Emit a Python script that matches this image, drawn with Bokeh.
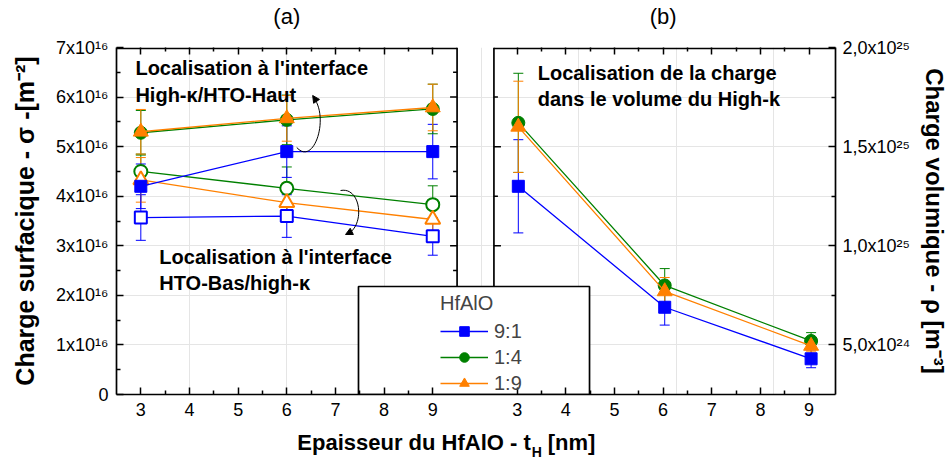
import math
from bokeh.plotting import figure
from bokeh.layouts import column
from bokeh.models import (Range1d, LinearAxis, FixedTicker, CustomJSTickFormatter, Whisker, TeeHead,
                          ColumnDataSource, Legend, LegendItem, Label, Arrow, NormalHead)
from bokeh.embed import file_html
from bokeh.resources import INLINE

# ---------------- data ----------------
thickness_nm = [3, 6, 9]
ratios = ["9:1", "1:4", "1:9"]
colors = ["#0000FF", "#008000", "#FF8000"]
markers = ["square", "circle", "triangle"]

# (a) surface charge, units of 1e16 m^-2
# filled symbols: interface High-k/HTO-Haut
sigma_haut_91 = [4.20, 4.90, 4.90]
sigma_haut_14 = [5.28, 5.54, 5.76]
sigma_haut_19 = [5.30, 5.57, 5.79]
sigma_haut_err_91 = [0.45, 0.52, 0.55]
sigma_haut_err_14 = [0.45, 0.50, 0.50]
sigma_haut_err_19 = [0.45, 0.46, 0.47]
# open symbols: interface HTO-Bas/high-k
sigma_bas_91 = [3.57, 3.60, 3.19]
sigma_bas_14 = [4.50, 4.16, 3.83]
sigma_bas_19 = [4.33, 3.87, 3.53]
sigma_bas_err_91 = [0.46, 0.43, 0.38]
sigma_bas_err_14 = [0.35, 0.43, 0.38]
sigma_bas_err_19 = [0.45, 0.40, 0.40]

# (b) volume charge, units of 1e24 m^-3
rho_91 = [13.0, 6.9, 4.3]
rho_14 = [16.2, 8.0, 5.2]
rho_19 = [16.0, 7.7, 4.95]
rho_err_91 = [2.35, 0.90, 0.45]
rho_err_14 = [2.50, 0.85, 0.42]
rho_err_19 = [2.30, 0.70, 0.30]

x_ticks = [3, 4, 5, 6, 7, 8, 9]
x_minor_ticks = [3.5, 4.5, 5.5, 6.5, 7.5, 8.5]
panel_titles = ["(a)", "(b)"]
sigma_ticks = [0, 1, 2, 3, 4, 5, 6, 7]
sigma_minor_ticks = [0.5, 1.5, 2.5, 3.5, 4.5, 5.5, 6.5]
sigma_tick_labels = ["0", "1x10¹⁶", "2x10¹⁶", "3x10¹⁶", "4x10¹⁶", "5x10¹⁶", "6x10¹⁶", "7x10¹⁶"]
rho_ticks = [5, 10, 15, 20]
rho_minor_ticks = [7.5, 12.5, 17.5]
rho_tick_labels = ["5,0x10²⁴", "1,0x10²⁵", "1,5x10²⁵", "2,0x10²⁵"]

sigma_haut = [sigma_haut_91, sigma_haut_14, sigma_haut_19]
sigma_haut_err = [sigma_haut_err_91, sigma_haut_err_14, sigma_haut_err_19]
sigma_bas = [sigma_bas_91, sigma_bas_14, sigma_bas_19]
sigma_bas_err = [sigma_bas_err_91, sigma_bas_err_14, sigma_bas_err_19]
rho = [rho_91, rho_14, rho_19]
rho_err = [rho_err_91, rho_err_14, rho_err_19]

# ---------------- layout ----------------
FONT = "Liberation Sans"
W = 951
H1, H2 = 425, 34            # main figure / strip holding the x-axis title
BL, BR, BT, BB = 116, 113, 47, 31
FW = W - BL - BR            # frame width (both panels + gap)
FH = H1 - BT - BB
PA_W = 342                  # panel (a) width px
PB_L, PB_W = 379, 343       # panel (b) left offset / width px
X0, X1 = 2.5, 9.5
SIG0, SIG1 = 0, 7
RHO0, RHO1 = 2.5, 20
LW = 1.7                    # frame / axis line width

xa = Range1d(X0, X0 + FW * (X1 - X0) / PA_W)
xb_start = X0 - PB_L * (X1 - X0) / PB_W
xb = Range1d(xb_start, xb_start + FW * (X1 - X0) / PB_W)
off = X0 - xb_start          # shift of panel (b) in panel (a) coords
SPX = (SIG1 - SIG0) / FH     # sigma units per px
RPX = (RHO1 - RHO0) / FH


def fx(px):
    return xa.start + (px - BL) * (X1 - X0) / PA_W


def fy(py):
    return (BT + FH - py) * SPX


p = figure(width=W, height=H1, output_backend="svg", toolbar_location=None,
           x_range=xa, y_range=Range1d(SIG0, SIG1),
           x_axis_location=None, y_axis_location=None,
           min_border_left=BL, min_border_right=BR, min_border_top=BT, min_border_bottom=BB)
p.extra_x_ranges = {"b": xb}
p.extra_y_ranges = {"rho": Range1d(RHO0, RHO1)}
p.outline_line_color = None
p.background_fill_color = "white"
p.border_fill_color = "white"


def style_axis(ax):
    ax.axis_line_width = LW
    ax.axis_line_color = "black"
    ax.major_tick_line_width = 1.5
    ax.minor_tick_line_width = 1.5
    ax.major_tick_line_color = "black"
    ax.minor_tick_line_color = "black"
    ax.major_tick_in = 7
    ax.major_tick_out = 0
    ax.minor_tick_in = 4
    ax.minor_tick_out = 0
    ax.major_label_text_font = FONT
    ax.major_label_text_font_size = "18px"
    ax.major_label_text_color = "black"
    ax.axis_label_text_font = FONT
    ax.axis_label_text_font_style = "bold"
    ax.axis_label_text_color = "black"


# bottom axis (both panels share one line)
xt_all = x_ticks + [t + off for t in x_ticks]
xm_all = x_minor_ticks + [t + off for t in x_minor_ticks]
xfmt = CustomJSTickFormatter(args=dict(off=off, lim=X1 + 0.1),
                             code="return (tick > lim ? tick - off : tick).toFixed(0);")
bx = LinearAxis(ticker=FixedTicker(ticks=xt_all, minor_ticks=xm_all), formatter=xfmt)
style_axis(bx)
bx.major_label_standoff = 8
p.add_layout(bx, "below")

# top axis: mirrored ticks, panel titles at the middle tick of each panel
tfmt = CustomJSTickFormatter(args=dict(ca=6, cb=6 + off, ta=panel_titles[0], tb=panel_titles[1]),
                             code="if (Math.abs(tick-ca)<1e-6) return ta;"
                                  "if (Math.abs(tick-cb)<1e-6) return tb; return '';")
tx = LinearAxis(ticker=FixedTicker(ticks=xt_all, minor_ticks=xm_all), formatter=tfmt)
style_axis(tx)
tx.axis_line_color = None
tx.major_label_text_font_size = "22px"
tx.major_label_standoff = 19
p.add_layout(tx, "above")

# left axis sigma
lfmt = CustomJSTickFormatter(args=dict(labels=dict(zip([str(t) for t in sigma_ticks], sigma_tick_labels))),
                             code="return labels[String(tick)] || '';")
ly = LinearAxis(ticker=FixedTicker(ticks=sigma_ticks, minor_ticks=sigma_minor_ticks), formatter=lfmt,
                axis_label="Charge surfacique - σ -[m⁻²]")
style_axis(ly)
ly.major_label_standoff = 8
ly.axis_label_standoff = 14
ly.axis_label_text_font_size = "25px"
p.add_layout(ly, "left")

# right axis rho
rfmt = CustomJSTickFormatter(args=dict(labels=dict(zip([str(t) for t in rho_ticks], rho_tick_labels))),
                             code="return labels[String(tick)] || '';")
ry = LinearAxis(y_range_name="rho", ticker=FixedTicker(ticks=rho_ticks, minor_ticks=rho_minor_ticks),
                formatter=rfmt, axis_label="Charge volumique - ρ [m⁻³]")
style_axis(ry)
ry.major_label_standoff = 7
ry.axis_label_standoff = 8
ry.axis_label_text_font_size = "24px"
p.add_layout(ry, "right")

# inner panel borders and top borders
top_a = SIG1 - 0.8 * SPX
top_b = RHO1 - 0.8 * RPX
p.segment(x0=[X1, X0], y0=[SIG0, top_a], x1=[X1, X1], y1=[SIG1, top_a],
          line_color="black", line_width=LW)
p.segment(x0=[X0, X0], y0=[RHO0, top_b], x1=[X0, X1], y1=[RHO1, top_b],
          line_color="black", line_width=LW, x_range_name="b", y_range_name="rho")

# mirrored inward ticks on inner borders
p.ray(x=[X1] * 6, y=sigma_ticks[1:-1], length=7, angle=math.pi, length_units="screen",
      line_color="black", line_width=1.5)
p.ray(x=[X1] * len(sigma_minor_ticks), y=sigma_minor_ticks, length=4, angle=math.pi,
      length_units="screen", line_color="black", line_width=1.5)
p.ray(x=[X0] * 3, y=rho_ticks[:-1], length=7, angle=0, length_units="screen",
      line_color="black", line_width=1.5, x_range_name="b", y_range_name="rho")
p.ray(x=[X0] * len(rho_minor_ticks), y=rho_minor_ticks, length=4, angle=0, length_units="screen",
      line_color="black", line_width=1.5, x_range_name="b", y_range_name="rho")

sizes = {"square": 12, "circle": 13, "triangle": 15}
legend_items = []


def whisk(xs, ys, es, c, **kw):
    src = ColumnDataSource(dict(x=xs, up=[a + b for a, b in zip(ys, es)], lo=[a - b for a, b in zip(ys, es)]))
    w = Whisker(source=src, base="x", upper="up", lower="lo", dimension="height",
                line_color=c, line_width=1,
                upper_head=TeeHead(size=10, line_color=c, line_width=1),
                lower_head=TeeHead(size=10, line_color=c, line_width=1), **kw)
    p.add_layout(w)


for i in range(3):
    c, m = colors[i], markers[i]
    whisk(thickness_nm, sigma_bas[i], sigma_bas_err[i], c)
    p.line(thickness_nm, sigma_bas[i], line_color=c, line_width=1.3)
    p.scatter(thickness_nm, sigma_bas[i], marker=m, size=sizes[m], line_color=c, line_width=2,
              fill_color="white")
for i in range(3):
    c, m = colors[i], markers[i]
    whisk(thickness_nm, sigma_haut[i], sigma_haut_err[i], c)
    lr = p.line(thickness_nm, sigma_haut[i], line_color=c, line_width=1.3)
    sr = p.scatter(thickness_nm, sigma_haut[i], marker=m, size=sizes[m], line_color=c, fill_color=c)
    legend_items.append(LegendItem(label=ratios[i], renderers=[lr, sr]))
for i in range(3):
    c, m = colors[i], markers[i]
    whisk(thickness_nm, rho[i], rho_err[i], c, x_range_name="b", y_range_name="rho")
    p.line(thickness_nm, rho[i], line_color=c, line_width=1.3, x_range_name="b", y_range_name="rho")
    p.scatter(thickness_nm, rho[i], marker=m, size=sizes[m], line_color=c, fill_color=c,
              x_range_name="b", y_range_name="rho")

# curved arrows
p.bezier(x0=[fx(297), fx(341)], y0=[fy(147), fy(190)], x1=[fx(314), fx(347)], y1=[fy(97), fy(234)],
         cx0=[fx(314), fx(362)], cy0=[fy(166), fy(186)], cx1=[fx(330), fx(366)], cy1=[fy(118), fy(226)],
         line_color="black", line_width=1)
p.add_layout(Arrow(end=NormalHead(size=7, fill_color="black", line_color="black", line_width=1),
                   x_start=fx(317), y_start=fy(101), x_end=fx(313), y_end=fy(95),
                   line_color="black", line_width=1))
p.add_layout(Arrow(end=NormalHead(size=7, fill_color="black", line_color="black", line_width=1),
                   x_start=fx(352), y_start=fy(231), x_end=fx(346), y_end=fy(234),
                   line_color="black", line_width=1))

# legend box (opaque, drawn over the inner panel borders)
p.quad(left=[fx(359)], right=[fx(591)], bottom=[SIG0], top=[fy(286)],
       fill_color="white", line_color="black", line_width=LW)


def lab(fig, x, y, t, size="20px", bold=True, align="left"):
    fig.add_layout(Label(x=x, y=y, text=t, text_font=FONT, text_font_size=size,
                         text_font_style="bold" if bold else "normal", text_align=align,
                         text_baseline="middle", text_color="black"))


lab(p, fx(135), fy(67), "Localisation à l'interface")
lab(p, fx(135), fy(94), "High-κ/HTO-Haut")
lab(p, fx(159), fy(256), "Localisation à l'interface")
lab(p, fx(159), fy(282), "HTO-Bas/high-κ")
lab(p, fx(539), fy(72), "Localisation de la charge")
lab(p, fx(539), fy(98), "dans le volume du High-k")

legend = Legend(items=legend_items, title="HfAlO", location=(324, -1), orientation="vertical",
                background_fill_alpha=0, border_line_color=None, padding=4, spacing=2, margin=0,
                glyph_width=48, glyph_height=24, label_height=24, label_standoff=6,
                label_text_font=FONT, label_text_font_size="20px",
                title_text_font=FONT, title_text_font_size="20px", title_text_font_style="normal",
                title_standoff=4)
p.add_layout(legend, "center")

# strip below the main figure holding the x-axis title; its frame is aligned with the
# main frame by the column layout, so its x range is given in page pixels of that frame
q = figure(width=W, height=H2, output_backend="svg", toolbar_location=None,
           x_range=Range1d(BL, W - BR), y_range=Range1d(H1 + H2, H1),
           x_axis_location=None, y_axis_location=None,
           min_border_left=0, min_border_right=0, min_border_top=0, min_border_bottom=0)
q.outline_line_color = None
q.grid.visible = False
lab(q, 532, 442, "Epaisseur du HfAlO - t", size="22px", align="right")
lab(q, 533, 451, "H", size="14px")
lab(q, 549, 442, "[nm]", size="22px")

layout = column(p, q, spacing=0)
open("out.html", "w", encoding="utf-8").write(file_html(layout, INLINE))
